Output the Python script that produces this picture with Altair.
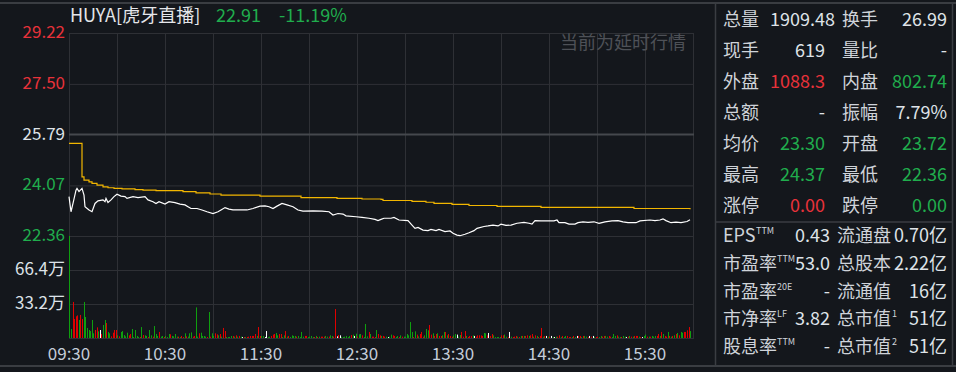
import altair as alt
import pandas as pd

# ---------------- data ----------------
# price line (minute after 09:30, price)
price_points = [
    (0,23.69),(1,23.18),(2,23.46),(4,23.91),(5,23.97),(6,23.86),(8,23.97),(9,23.74),(10,23.35),(12,23.24),
    (14,23.18),(16,23.46),(18,23.55),(21,23.58),(22,23.52),(23,23.63),(24,23.49),(26,23.58),(28,23.69),(30,23.77),
    (32,23.71),(35,23.69),(36,23.63),(40,23.69),(43,23.66),(47,23.69),(49,23.58),(52,23.52),(54,23.46),(56,23.52),
    (60,23.44),(62,23.52),(66,23.49),(69,23.44),(72,23.41),(74,23.35),(76,23.29),(80,23.29),(83,23.24),(86,23.18),
    (90,23.12),(93,23.18),(95,23.24),(97,23.32),(100,23.27),(102,23.24),(106,23.24),(111,23.24),(115,23.29),(119,23.37),
    (122,23.38),(125,23.35),(127,23.29),(130,23.37),(133,23.46),(136,23.41),(140,23.35),(143,23.24),(146,23.20),(152,23.21),
    (158,23.20),(162,23.18),(165,23.07),(168,23.12),(171,23.10),(173,23.04),(179,23.01),(183,22.99),(187,22.96),(191,22.92),
    (193,22.88),(195,22.92),(197,22.96),(201,22.96),(203,22.99),(206,22.90),(212,22.88),(214,22.73),(216,22.62),(218,22.65),
    (221,22.56),(224,22.54),(226,22.58),(229,22.54),(231,22.58),(235,22.51),(238,22.53),(240,22.45),(242,22.39),(244,22.37),
    (247,22.42),(250,22.47),(253,22.54),(255,22.62),(259,22.68),(262,22.70),(265,22.73),(268,22.70),(270,22.76),(273,22.72),
    (276,22.73),(280,22.79),(284,22.82),(287,22.79),(289,22.76),(291,22.88),(295,22.87),(299,22.87),(303,22.87),(305,22.90),
    (306,22.81),(310,22.81),(312,22.76),(316,22.76),(318,22.81),(321,22.84),(324,22.82),(328,22.84),(331,22.79),(335,22.84),
    (339,22.87),(343,22.88),(346,22.84),(349,22.81),(354,22.81),(357,22.87),(363,22.90),(366,22.88),(369,22.90),(371,22.94),
    (373,22.88),(376,22.81),(379,22.83),(382,22.81),(386,22.85),(388,22.91),
]
# average price line
avg_points = [
    (0,25.49),(7,25.49),(8,24.36),(9,24.25),(12,24.19),(14,24.14),(17,24.08),(21,24.02),(24,23.99),(28,23.97),
    (33,23.95),(41,23.93),(46,23.91),(54,23.89),(71,23.86),(79,23.82),(88,23.78),(95,23.74),(119,23.71),(145,23.66),
    (167,23.63),(183,23.61),(195,23.60),(196,23.56),(214,23.53),(223,23.50),(228,23.46),(239,23.43),(250,23.39),
    (267,23.36),(295,23.33),(353,23.29),(387,23.29),(388,23.26),
]
# per-minute volume (万), blocks of 30 minutes
volume = [
    150, 8.8, 35.2, 18.6, 21.2, 22.1, 17.6, 22.5, 18.6, 35.2, 20.5, 9.8, 7.8, 6.8, 17.6, 4.6, 7.8, 10.4, 6.5, 7.8, 3.9, 12.7, 17.6, 14.6, 5.9, 4.6, 1.6, 5.2, 7.8, 7.8,
    2.6, 1.6, 5.9, 6.8, 2.9, 1.6, 5.2, 2.6, 3.9, 8.8, 1.0, 7.8, 2.0, 1.0, 1.0, 10.7, 2.9, 2.6, 2.0, 1.0, 7.8, 2.6, 1.3, 11.7, 3.9, 2.0, 5.9, 1.3, 2.0, 1.0,
    2.0, 1.0, 3.9, 3.6, 2.0, 1.6, 3.9, 1.3, 1.3, 1.0, 2.0, 1.0, 4.6, 1.6, 1.3, 4.6, 5.5, 1.3, 2.0, 29.9, 1.3, 4.6, 5.2, 2.0, 2.0, 1.3, 1.0, 25.4, 1.3, 4.6,
    2.0, 4.6, 3.6, 2.6, 3.9, 1.3, 9.8, 6.8, 1.0, 1.0, 1.0, 2.0, 2.0, 1.3, 2.6, 1.3, 2.0, 1.3, 1.0, 1.0, 1.0, 1.0, 1.3, 2.0, 2.0, 2.0, 3.9, 2.0, 10.7, 2.0,
    2.0, 2.0, 1.0, 6.8, 1.0, 1.3, 2.0, 3.3, 3.9, 4.9, 2.6, 3.9, 3.9, 1.0, 2.6, 6.8, 1.3, 2.0, 1.0, 2.6, 2.0, 2.0, 1.3, 2.0, 1.0, 5.9, 1.3, 2.0, 2.0, 1.0,
    1.3, 2.0, 1.0, 1.0, 2.0, 1.0, 1.3, 1.3, 1.3, 1.3, 2.0, 1.3, 1.3, 2.6, 2.0, 1.3, 28.3, 1.6, 2.9, 2.6, 1.0, 1.0, 1.3, 2.0, 1.0, 2.0, 2.9, 3.3, 2.0, 4.2,
    1.3, 3.6, 3.9, 2.6, 1.0, 13.7, 1.6, 5.9, 3.9, 1.3, 1.3, 1.0, 7.8, 3.9, 2.6, 2.0, 2.0, 1.3, 1.3, 1.0, 1.3, 3.3, 2.6, 2.0, 1.0, 2.0, 1.0, 2.6, 1.3, 1.3,
    1.3, 3.9, 2.6, 15.6, 5.9, 1.0, 6.5, 3.3, 1.6, 3.9, 5.9, 1.3, 2.6, 8.8, 7.5, 12.7, 3.3, 4.6, 2.0, 3.9, 4.6, 2.0, 2.0, 2.6, 5.9, 5.9, 2.6, 3.9, 2.0, 1.3,
    2.6, 3.9, 3.3, 1.3, 2.9, 5.9, 1.3, 6.8, 2.0, 1.0, 2.0, 2.0, 2.6, 2.0, 1.3, 2.6, 2.6, 2.6, 2.0, 4.9, 4.6, 2.6, 4.9, 2.0, 3.9, 2.6, 1.0, 1.0, 1.0, 1.0,
    2.6, 2.6, 3.3, 1.3, 1.0, 5.9, 1.3, 1.0, 1.3, 2.0, 1.3, 1.0, 2.0, 2.0, 2.0, 2.0, 2.6, 2.0, 2.6, 3.9, 1.3, 2.6, 2.0, 1.0, 2.0, 9.8, 1.3, 2.0, 2.0, 1.3,
    1.3, 2.0, 1.0, 1.0, 1.3, 1.3, 2.6, 1.0, 2.0, 1.0, 2.0, 2.0, 1.0, 1.0, 1.0, 2.0, 1.0, 2.0, 2.0, 2.0, 1.0, 2.0, 2.0, 1.3, 1.0, 2.0, 1.3, 2.0, 1.0, 1.0,
    1.3, 1.0, 2.0, 1.3, 2.0, 2.0, 1.3, 2.0, 1.3, 1.0, 3.9, 2.0, 2.6, 1.3, 1.0, 1.0, 2.0, 1.3, 1.0, 1.3, 2.0, 1.3, 1.3, 2.0, 2.0, 2.0, 1.3, 1.0, 1.0, 2.0,
    3.3, 1.3, 1.3, 1.3, 2.0, 1.3, 2.0, 2.0, 3.9, 2.0, 5.9, 3.9, 2.0, 1.3, 5.9, 2.0, 1.3, 2.0, 2.6, 3.9, 4.9, 2.6, 5.9, 5.2, 5.9, 5.9, 7.5, 10.7, 6.8,
]
# per-minute direction: r = up, g = down, w = flat
volume_dir = "".join([
    "ggrrrrgrrgggggggrrgwrggrggrrrr",
    "grgggggrrgggggrgrggrggrgggrggr",
    "gggrggggrgrrgrgggrrggrggggrgrg",
    "grrgrgrrggggrgrgrgwrgrrrrrrgrr",
    "ggwwggrrrggrrggrgrggggrggggrrg",
    "gggrgrgrrrggrggrrwrwggggggrgwg",
    "rggrgggrgrrrgrrgrrgwggrrggrgrg",
    "gggggrgrgrrrgggrrgrrgrrggrgrrr",
    "ggwggrrrgrrrgwrrrrrggrwrrggggg",
    "rrggrwgrrrgrgrgrrgrrgrgrrrgrwg",
    "rwgwgrrgrggrrrgrgwrrgrggrwrwgr",
    "rggrrggrrgggrggrggwrgrgrrrgrwg",
    "grgrgggrrgrgrrgrgrgrgrggrrrrg",
])

price_ticks = [29.22, 27.50, 25.79, 24.07, 22.36]
price_tick_labels = ["29.22", "27.50", "25.79", "24.07", "22.36"]
price_tick_dir = ["r", "r", "w", "g", "g"]
vol_ticks = [66.4, 33.2]
vol_tick_labels = ["66.4万", "33.2万"]
grid_minutes = list(range(0, 391, 30))
time_ticks = [0, 60, 120, 180, 240, 300, 360]
time_labels = ["09:30", "10:30", "11:30", "12:30", "13:30", "14:30", "15:30"]

title_name = "HUYA[虎牙直播]"
title_price = "22.91"
title_change = "-11.19%"
delay_note = "当前为延时行情"

top_labels1 = ["总量", "现手", "外盘", "总额", "均价", "最高", "涨停"]
top_values1 = ["1909.48", "619", "1088.3", "-", "23.30", "24.37", "0.00"]
top_dir1 = ["w", "w", "r", "w", "g", "g", "r"]
top_labels2 = ["换手", "量比", "内盘", "振幅", "开盘", "最低", "跌停"]
top_values2 = ["26.99", "-", "802.74", "7.79%", "23.72", "22.36", "0.00"]
top_dir2 = ["w", "w", "g", "w", "g", "g", "g"]

bot_labels1 = ["EPS", "市盈率", "市盈率", "市净率", "股息率"]
bot_sup1 = ["TTM", "TTM", "20E", "LF", "TTM"]
bot_values1 = ["0.43", "53.0", "-", "3.82", "-"]
bot_labels2 = ["流通盘", "总股本", "流通值", "总市值", "总市值"]
bot_sup2 = ["", "", "", "1", "2"]
bot_values2 = ["0.70亿", "2.22亿", "16亿", "51亿", "51亿"]

# ---------------- style ----------------
BG = "#14171c"
GRID = "#2e3035"
FRAME = "#3a3d42"
FONT = "Noto Sans CJK SC"
RED_T, GREEN_T, WHITE_T = "#e8323a", "#20ad4d", "#dfe3e8"
LABEL_C = "#cfd3d9"
RED_B, GREEN_B, WHITE_B = "#e00000", "#0f9f0f", "#ffffff"

X = alt.Scale(domain=[0, 390], range=[69.3, 693.3], round=True, nice=False, zero=False)
PY = alt.Scale(domain=[22.36, 29.22], range=[236, 33], nice=False, zero=False)
VY = alt.Scale(domain=[0, 99.6], range=[338, 236], nice=False, zero=True, clamp=True)
ROWT = alt.Scale(domain=[0, 6], range=[20.5, 206.5], nice=False, zero=False)
ROWB = alt.Scale(domain=[0, 4], range=[237, 348], nice=False, zero=False)
TXT_COLOR = alt.Scale(domain=["r", "g", "w"], range=[RED_T, GREEN_T, WHITE_T])
BAR_COLOR = alt.Scale(domain=["r", "g", "w"], range=[RED_B, GREEN_B, WHITE_B])

one = pd.DataFrame({"k": [0]})

def frame_rule(x, x2, y, y2=None, w=2, color=FRAME):
    enc = dict(x=alt.value(x), y=alt.value(y))
    if x2 is not None:
        enc["x2"] = alt.value(x2)
    if y2 is not None:
        enc["y2"] = alt.value(y2)
    return alt.Chart(one).mark_rule(color=color, strokeWidth=w).encode(**enc)

layers = []

# frame
layers += [
    frame_rule(0, 956, 3),
    frame_rule(0, 956, 366),
    frame_rule(715.5, None, 3, 366, w=1.5),
    frame_rule(952.5, None, 3, 366, w=1.5),
    frame_rule(715, 953, 222, w=1.5),
]

# vertical grid
layers.append(
    alt.Chart(pd.DataFrame({"m": grid_minutes})).mark_rule(color=GRID, strokeWidth=1, xOffset=0.5)
    .encode(x=alt.X("m:Q", scale=X, axis=None), y=alt.value(33), y2=alt.value(338))
)
# price grid
pg = pd.DataFrame({"p": price_ticks, "lab": price_tick_labels, "d": price_tick_dir})
layers.append(
    alt.Chart(pg).transform_filter("datum.p != 25.79").mark_rule(color=GRID, strokeWidth=1, yOffset=0.5)
    .encode(y=alt.Y("p:Q", scale=PY, axis=None), x=alt.value(69), x2=alt.value(694))
)
layers.append(
    alt.Chart(pg).transform_filter("datum.p == 25.79").mark_rule(color="#45484d", strokeWidth=2)
    .encode(y=alt.Y("p:Q", scale=PY, axis=None), x=alt.value(69), x2=alt.value(694))
)
# volume grid
vg = pd.DataFrame({"v": vol_ticks + [0], "lab": vol_tick_labels + [""]})
layers.append(
    alt.Chart(vg).mark_rule(color=GRID, strokeWidth=1, yOffset=0.5)
    .encode(y=alt.Y("v:Q", scale=VY, axis=None), x=alt.value(69), x2=alt.value(694))
)

# volume bars
vol_df = pd.DataFrame({
    "m": list(range(len(volume))),
    "v": volume,
    "d": list(volume_dir[:len(volume)]) + ["w"] * max(0, len(volume) - len(volume_dir)),
})
layers.append(
    alt.Chart(vol_df).mark_rule(strokeWidth=1, xOffset=0.5)
    .encode(
        x=alt.X("m:Q", scale=X, axis=None),
        y=alt.Y("v:Q", scale=VY, axis=None),
        y2=alt.datum(0),
        color=alt.Color("d:N", scale=BAR_COLOR, legend=None),
    )
)

# average & price lines
avg_df = pd.DataFrame(avg_points, columns=["m", "p"])
layers.append(
    alt.Chart(avg_df).mark_line(color="#f2b600", strokeWidth=1.2, interpolate="step-after")
    .encode(x=alt.X("m:Q", scale=X, axis=None), y=alt.Y("p:Q", scale=PY, axis=None))
)
pr_df = pd.DataFrame(price_points, columns=["m", "p"])
layers.append(
    alt.Chart(pr_df).mark_line(color="#ffffff", strokeWidth=1.2)
    .encode(x=alt.X("m:Q", scale=X, axis=None), y=alt.Y("p:Q", scale=PY, axis=None))
)

# y-axis labels
layers.append(
    alt.Chart(pg).mark_text(align="right", baseline="middle", font=FONT, fontSize=17)
    .encode(x=alt.value(65), y=alt.Y("p:Q", scale=PY, axis=None), text="lab:N",
            color=alt.Color("d:N", scale=TXT_COLOR, legend=None))
)
layers.append(
    alt.Chart(vg).transform_filter("datum.v > 0").mark_text(align="right", baseline="middle", font=FONT, fontSize=17, color="#dde2e8")
    .encode(x=alt.value(65), y=alt.Y("v:Q", scale=VY, axis=None), text="lab:N")
)
# time labels
tl = pd.DataFrame({"m": time_ticks, "lab": time_labels})
layers.append(
    alt.Chart(tl).mark_text(align="center", baseline="middle", font=FONT, fontSize=17, color="#c4cdd9")
    .encode(x=alt.X("m:Q", scale=X, axis=None), y=alt.value(355), text="lab:N")
)

# title texts
def fixed_text(t, x, y, color, size=18, align="left"):
    return alt.Chart(pd.DataFrame({"t": [t]})).mark_text(
        align=align, baseline="middle", font=FONT, fontSize=size, color=color
    ).encode(x=alt.value(x), y=alt.value(y), text="t:N")

layers += [
    fixed_text(title_name, 70, 17, "#e4e6ea"),
    fixed_text(title_price, 216, 17, GREEN_T),
    fixed_text(title_change, 279, 17, GREEN_T),
    fixed_text(delay_note, 686, 44, "#4e5157", size=18, align="right"),
]

# right info panel: top block
rows_t = list(range(len(top_labels1)))
tdf = pd.DataFrame({"r": rows_t, "l1": top_labels1, "v1": top_values1, "d1": top_dir1,
                    "l2": top_labels2, "v2": top_values2, "d2": top_dir2})
def panel_text(df, field, x, align, rowscale, color=None, colorfield=None, size=18, filt=None, dy=0):
    ch = alt.Chart(df)
    if filt:
        ch = ch.transform_filter(filt)
    mk = dict(align=align, baseline="middle", font=FONT, fontSize=size, dy=dy)
    if color:
        mk["color"] = color
    enc = dict(x=alt.value(x), y=alt.Y("r:Q", scale=rowscale, axis=None), text=f"{field}:N")
    if colorfield:
        enc["color"] = alt.Color(f"{colorfield}:N", scale=TXT_COLOR, legend=None)
    return ch.mark_text(**mk).encode(**enc)

layers += [
    panel_text(tdf, "l1", 723, "left", ROWT, color=LABEL_C),
    panel_text(tdf, "v1", 825, "right", ROWT, colorfield="d1", filt="datum.r > 0"),
    panel_text(tdf, "v1", 835, "right", ROWT, colorfield="d1", filt="datum.r == 0"),
    panel_text(tdf, "l2", 842, "left", ROWT, color=LABEL_C),
    panel_text(tdf, "v2", 947, "right", ROWT, colorfield="d2"),
]

# right info panel: bottom block
rows_b = list(range(len(bot_labels1)))
bdf = pd.DataFrame({"r": rows_b, "l1": bot_labels1, "s1": bot_sup1, "v1": bot_values1,
                    "l2": bot_labels2, "s2": bot_sup2, "v2": bot_values2})
layers += [
    panel_text(bdf, "l1", 723, "left", ROWB, color=LABEL_C),
    panel_text(bdf, "s1", 756, "left", ROWB, color=LABEL_C, size=9, filt="datum.r == 0", dy=-6),
    panel_text(bdf, "s1", 777, "left", ROWB, color=LABEL_C, size=9, filt="datum.r > 0", dy=-6),
    panel_text(bdf, "v1", 830, "right", ROWB, color=WHITE_T),
    panel_text(bdf, "l2", 837, "left", ROWB, color=LABEL_C),
    panel_text(bdf, "s2", 892, "left", ROWB, color=LABEL_C, size=9, filt="datum.r >= 3", dy=-6),
    panel_text(bdf, "v2", 947, "right", ROWB, color=WHITE_T),
]

chart = (
    alt.layer(*layers)
    .resolve_scale(y="independent", color="independent")
    .properties(width=956, height=372, background=BG, padding=0, autosize="none")
    .configure_view(stroke=None)
)

chart.save("out.html", embed_options={"renderer": "svg", "actions": False})
